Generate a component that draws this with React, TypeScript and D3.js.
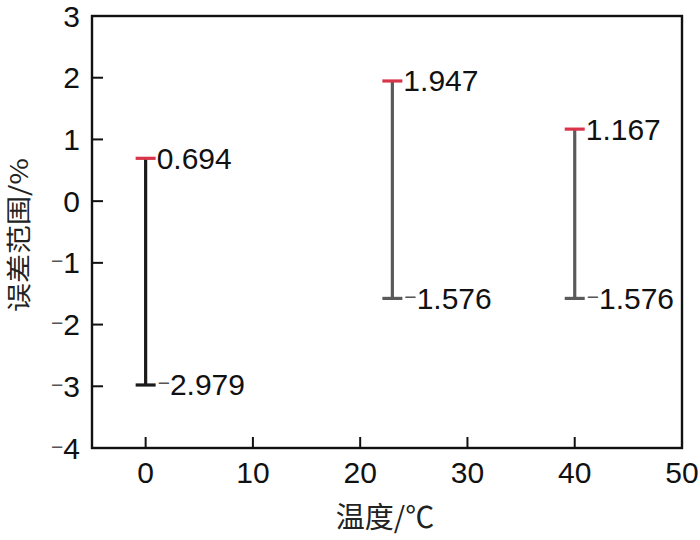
import React from "react";
import * as d3 from "d3";

const temperatures = [0, 23, 40];
const upperErrors = [0.694, 1.947, 1.167];
const lowerErrors = [-2.979, -1.576, -1.576];
const barColors = ["#1a1a1a", "#5a5a5a", "#5a5a5a"];
const xTicks = [0, 10, 20, 30, 40, 50];
const yTicks = [3, 2, 1, 0, -1, -2, -3, -4];
const xTitle = "温度/℃";
const yTitle = "误差范围/%";

const W = 700;
const H = 540;
const m = { left: 92, right: 18, top: 16, bottom: 92 };
const FONT = "'Liberation Sans', Arial, Helvetica, sans-serif";
const CJK = "'Noto Sans CJK SC', 'Noto Sans', sans-serif";
const FS = 30;

function Num({ x, y, v, anchor }: { x: number; y: number; v: number; anchor?: string }) {
  const neg = v < 0;
  return (
    <text x={x} y={y + 10.5} textAnchor={anchor || "start"} fontFamily={FONT} fontSize={FS} fill="#111">
      {neg && (
        <tspan fontSize={21} fill="#555" dy={-5}>
          −
        </tspan>
      )}
      <tspan dy={neg ? 5 : 0}>{String(Math.abs(v))}</tspan>
    </text>
  );
}

export default function App() {
  const x = d3.scaleLinear().domain([-5, 50]).range([m.left, W - m.right]);
  const y = d3.scaleLinear().domain([-4, 3]).range([H - m.bottom, m.top]);
  const x0 = x(-5), x1 = x(50), y0 = y(-4), y1 = y(3);
  const tickLen = 11;
  const capHalf = 10;
  const red = "#d8354a";

  return (
    <svg width={W} height={H} style={{ position: "absolute", left: 0, top: 0, background: "#fff" }}>
      <rect x={0} y={0} width={W} height={H} fill="#fff" />
      {/* error bars */}
      {temperatures.map((t, i) => {
        const cx = x(t);
        const yu = y(upperErrors[i]);
        const yl = y(lowerErrors[i]);
        return (
          <g key={i}>
            <line x1={cx} x2={cx} y1={yu} y2={yl} stroke={barColors[i]} strokeWidth={3.2} />
            <line x1={cx - capHalf} x2={cx + capHalf} y1={yu} y2={yu} stroke={red} strokeWidth={3.2} />
            <line x1={cx - capHalf} x2={cx + capHalf} y1={yl} y2={yl} stroke={barColors[i]} strokeWidth={3.2} />
            <Num x={cx + capHalf + 1} y={yu} v={upperErrors[i]} />
            <Num x={cx + capHalf + 2} y={yl} v={lowerErrors[i]} />
          </g>
        );
      })}
      {/* frame */}
      <rect x={x0} y={y1} width={x1 - x0} height={y0 - y1} fill="none" stroke="#111" strokeWidth={2.4} />
      {/* x ticks */}
      {xTicks.map((t) => (
        <g key={"x" + t}>
          {t !== 50 && <line x1={x(t)} x2={x(t)} y1={y0} y2={y0 - tickLen} stroke="#111" strokeWidth={2} />}
          <text x={x(t)} y={y0 + 35} textAnchor="middle" fontFamily={FONT} fontSize={FS} fill="#111">
            {t}
          </text>
        </g>
      ))}
      {/* y ticks */}
      {yTicks.map((t) => (
        <g key={"y" + t}>
          {t !== 3 && t !== -4 && (
            <line x1={x0} x2={x0 + tickLen} y1={y(t)} y2={y(t)} stroke="#111" strokeWidth={2} />
          )}
          <Num x={x0 - 12} y={y(t)} v={t} anchor="end" />
        </g>
      ))}
      {/* axis titles */}
      <text x={(x0 + x1) / 2 - 2} y={528} textAnchor="middle" fontFamily={CJK} fontSize={29} fill="#222">
        {xTitle}
      </text>
      <text
        transform={`translate(28, ${235}) rotate(-90) scale(1, 0.86)`}
        textAnchor="middle"
        fontFamily={CJK}
        fontSize={29}
        fill="#222"
      >
        {yTitle}
      </text>
    </svg>
  );
}
